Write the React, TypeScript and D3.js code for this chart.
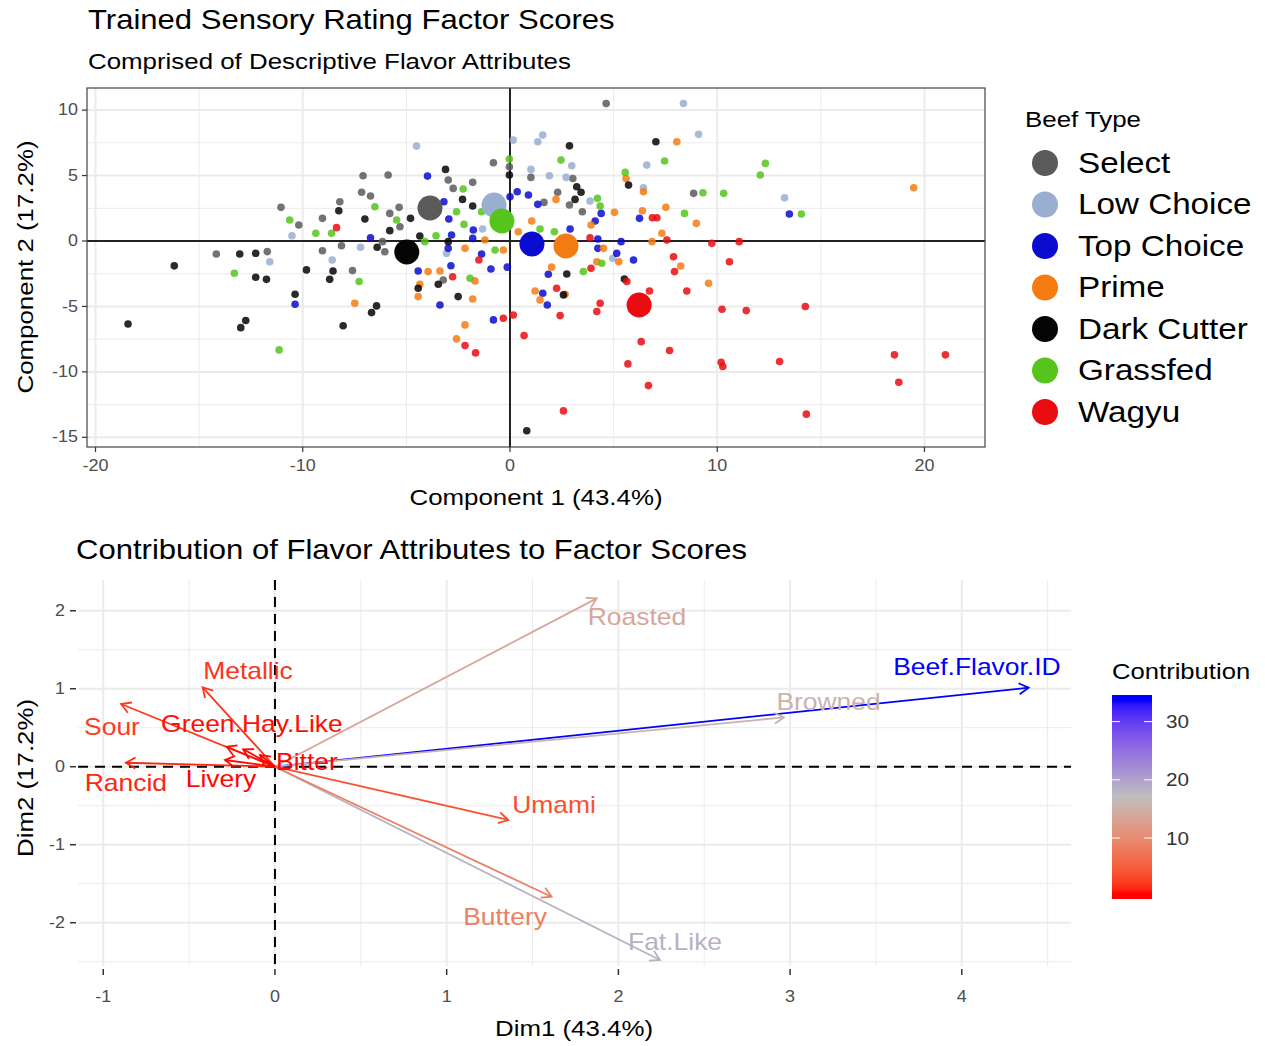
import React from "react";
import * as d3 from "d3";

// ---------- DATA: top plot (factor scores) ----------
const beefTypes = ["Select", "Low Choice", "Top Choice", "Prime", "Dark Cutter", "Grassfed", "Wagyu"];
const typeColors = ["#5a5a5a", "#98afd0", "#0a0ad0", "#f47b12", "#050505", "#55c41c", "#ea0c10"];

const selectPts = [[-11.05,2.57],[-10.19,1.22],[-14.17,-0.99],[-11.71,-0.81],[-0.8,5.98],[-0.03,5.67],[-7.09,4.98],[-5.88,5.04],[-2.98,4.66],[-1.8,4.48],[-2.74,4.02],[-7.16,3.72],[-6.73,3.44],[-8.21,3.0],[-5.35,2.57],[-5.8,2.11],[-9.05,1.73],[-5.31,1.09],[-8.13,-0.36],[-6.15,-0.05],[-9.05,-0.74],[-6.04,-0.82],[-7.6,-2.26],[-3.22,-2.98],[4.64,10.51],[1.01,4.86],[3.03,4.78],[2.3,3.72],[1.64,2.95],[2.87,2.75],[3.49,2.24],[8.86,3.64]];
const lowChoicePts = [[-10.52,0.4],[-11.59,-1.58],[0.16,7.71],[-4.51,7.25],[-1.32,0.92],[-7.21,-0.48],[-8.58,-1.45],[-3.06,-0.94],[8.37,10.51],[1.58,8.09],[1.34,7.58],[9.1,8.15],[2.98,5.75],[6.6,5.8],[1.01,5.47],[1.9,4.98],[2.71,4.86],[3.86,3.05],[6.44,4.07],[4.96,-1.32],[13.25,3.31]];
const topChoicePts = [[-10.37,-4.83],[-3.98,4.96],[-3.19,3.0],[0.35,3.76],[0.89,3.51],[0,3.38],[-2.95,1.68],[-1.77,0.84],[-2.82,0.46],[-6.73,0.25],[-2.98,-0.56],[-1.8,0.2],[-1.37,-0.99],[-4.43,-2.29],[-2.85,-1.89],[-3.38,-4.89],[-0.92,-2.14],[-0.13,-2.0],[-0.8,-6.03],[1.34,2.8],[4.4,2.11],[6.25,1.73],[4.11,1.53],[2.9,0.92],[4.24,0.15],[4.24,-0.56],[5.36,-0.05],[5.15,-0.94],[5.96,-1.45],[1.85,-2.54],[1.58,-3.99],[1.8,-4.89],[13.48,2.06]];
const primePts = [[0.4,0.71],[-2.17,-0.56],[-1.21,0.08],[-0.32,-0.69],[-7.49,-4.76],[-3.95,-2.34],[-3.38,-2.29],[-4.35,-3.31],[-4.43,-4.25],[-1.69,-3.05],[-1.8,-4.43],[-2.17,-6.41],[-2.58,-7.48],[8.05,7.58],[5.6,4.78],[2.22,3.18],[6.44,3.76],[5.04,2.19],[6.39,2.31],[7.52,2.57],[8.99,1.35],[3.91,1.22],[1.05,1.53],[4.51,-0.56],[7.33,0.59],[6.85,-0.05],[4.19,-1.58],[2.01,-2.0],[5.25,-1.58],[8.24,-1.91],[2.66,-4.07],[1.21,-3.82],[1.45,-4.5],[9.58,-3.23],[19.48,4.07]];
const darkCutterPts = [[-13.04,-0.99],[-12.27,-0.94],[-16.2,-1.9],[-12.27,-2.77],[-11.75,-2.93],[-9.82,-2.21],[-10.37,-4.07],[-18.43,-6.34],[-12.75,-6.08],[-12.99,-6.62],[-3.11,5.47],[-0.03,5.04],[-2.29,3.18],[-1.8,2.67],[-8.26,2.31],[-7.0,1.68],[-4.8,1.73],[-5.8,0.79],[-4.35,0.38],[-6.41,-0.48],[-2.98,-0.05],[-8.54,-2.29],[-8.7,-2.93],[-6.44,-4.96],[-6.68,-5.47],[-8.05,-6.47],[-3.46,-3.31],[-4.43,-3.61],[-2.5,-4.25],[0.81,-14.5],[2.87,7.27],[7.04,7.58],[5.72,4.27],[3.22,4.14],[3.43,3.72],[3.14,3.18],[2.74,-2.52],[5.52,-2.9],[2.58,-4.12]];
const grassfedPts = [[-10.63,1.6],[-13.3,-2.47],[-11.14,-8.32],[-0.03,6.26],[-2.26,3.97],[-6.52,2.62],[-5.47,1.6],[-2.58,2.24],[-2.22,1.27],[-1.37,2.24],[-8.61,0.59],[-9.37,0.59],[-3.57,0.4],[-4.11,-0.05],[-0.72,-0.69],[-7.28,-3.1],[-1.93,-2.85],[2.46,6.18],[7.46,6.11],[5.56,5.24],[4.22,3.26],[4.35,2.67],[9.31,3.69],[10.31,3.64],[8.42,2.11],[1.45,0.92],[2.14,0.71],[4.43,-1.7],[3.54,-2.34],[12.32,5.93],[12.08,5.04],[14.06,2.06]];
const wagyuPts = [[-8.37,1.02],[-1.5,-1.45],[-2.77,-2.73],[-0.32,-5.9],[0.16,-5.65],[0.68,-7.23],[-2.17,-7.99],[-1.66,-8.55],[6.87,1.78],[7.09,1.78],[3.86,0.25],[7.57,0.08],[9.74,-0.18],[11.06,-0.05],[7.89,-1.2],[10.59,-1.58],[3.91,-2.08],[7.94,-2.34],[5.64,-3.1],[2.25,-3.61],[2.42,-5.7],[4.35,-4.76],[4.19,-5.39],[6.73,-3.82],[8.53,-3.82],[10.23,-5.21],[11.4,-5.32],[6.33,-7.69],[7.7,-8.37],[5.69,-9.39],[10.19,-9.26],[10.27,-9.59],[6.68,-11.05],[2.58,-12.98],[14.25,-5.01],[13.01,-9.21],[14.3,-13.23],[18.55,-8.7],[21.01,-8.7],[18.76,-10.79]];
const groupPoints = [selectPts, lowChoicePts, topChoicePts, primePts, darkCutterPts, grassfedPts, wagyuPts];

const meanX = [-3.86, -0.77, 1.06, 2.7, -4.98, -0.39, 6.23];
const meanY = [2.52, 2.75, -0.23, -0.38, -0.84, 1.53, -4.89];

const scoreXTicks = [-20, -10, 0, 10, 20];
const scoreXMinor = [-15, -5, 5, 15];
const scoreYTicks = [-15, -10, -5, 0, 5, 10];
const scoreYMinor = [-12.5, -7.5, -2.5, 2.5, 7.5];

// ---------- DATA: bottom plot (variable contributions) ----------
const varNames = ["Beef.Flavor.ID", "Browned", "Roasted", "Fat.Like", "Buttery", "Umami", "Metallic", "Sour", "Rancid", "Green.Hay.Like", "Livery", "Bitter", ""];
const varDim1 = [4.389, 2.964, 1.874, 2.242, 1.611, 1.359, -0.421, -0.896, -0.868, -0.281, -0.291, -0.087, -0.185];
const varDim2 = [1.013, 0.633, 2.159, -2.478, -1.667, -0.683, 1.018, 0.804, 0.051, 0.256, 0.086, 0.15, 0.223];
const varContrib = [33.7, 15.4, 13.6, 18.4, 8.8, 3.9, 2.0, 2.4, 1.3, 0.6, 0.5, 0.45, 0.4];
const labelDim1 = [4.088, 3.224, 2.108, 2.33, 1.34, 1.625, -0.157, -0.949, -0.868, -0.134, -0.314, 0.186, 0];
const labelDim2 = [1.282, 0.833, 1.919, -2.247, -1.927, -0.49, 1.227, 0.512, -0.213, 0.55, -0.162, 0.064, 0];

const dimXTicks = [-1, 0, 1, 2, 3, 4];
const dimXMinor = [-0.5, 0.5, 1.5, 2.5, 3.5, 4.5];
const dimYTicks = [-2, -1, 0, 1, 2];
const dimYMinor = [-2.5, -1.5, -0.5, 0.5, 1.5];
const contribTicks = [10, 20, 30];

// ---------- helpers ----------
const SX = 1.15;
const FONT = "'Liberation Sans', Arial, Helvetica, sans-serif";

function Txt({ x, y, size, anchor = "start", rot = 0, fill = "#000", baseline = "alphabetic", children }: any) {
  return (
    <g transform={`translate(${x},${y}) rotate(${rot}) scale(${SX},1)`}>
      <text fontSize={size} textAnchor={anchor} dominantBaseline={baseline} fill={fill} fontFamily={FONT}>
        {children}
      </text>
    </g>
  );
}

export default function App() {
  // top plot scales
  const P1 = { l: 87, r: 985, t: 88, b: 447 };
  const xS = d3.scaleLinear().domain([-20.41, 22.92]).range([P1.l, P1.r]);
  const yS = d3.scaleLinear().domain([-15.74, 11.69]).range([P1.b, P1.t]);

  // bottom plot scales
  const P2 = { l: 78, r: 1071, t: 580, b: 966 };
  const bx = d3.scaleLinear().domain([-1.147, 4.636]).range([P2.l, P2.r]);
  const by = d3.scaleLinear().domain([-2.555, 2.394]).range([P2.b, P2.t]);

  const cMin = d3.min(varContrib) as number;
  const cMax = d3.max(varContrib) as number;
  const cScale = d3
    .scaleLinear<string>()
    .domain([cMin, (cMin + cMax) / 2, cMax])
    .range(["#ff0000", "#bebebe", "#0000ff"])
    .interpolate(d3.interpolateLab)
    .clamp(true);

  const CB = { l: 1112, r: 1152, t: 695, b: 899 };
  const half = (CB.b - CB.t) / 40;
  const cbY = d3.scaleLinear().domain([cMin, cMax]).range([CB.b - half, CB.t + half]);
  const gradStops = d3.range(0, 41).map((i) => {
    const off = i / 40;
    const v = cbY.invert(CB.t + off * (CB.b - CB.t));
    return { off, c: cScale(v) };
  });

  const tickGray = "#4d4d4d";
  const gridCol = "#ebebeb";

  const arrowHead = (x0: number, y0: number, x1: number, y1: number) => {
    const a = Math.atan2(y1 - y0, x1 - x0);
    const L = 11;
    const s = Math.PI / 6;
    const p1 = [x1 - L * Math.cos(a - s), y1 - L * Math.sin(a - s)];
    const p2 = [x1 - L * Math.cos(a + s), y1 - L * Math.sin(a + s)];
    return `M${p1[0]},${p1[1]}L${x1},${y1}L${p2[0]},${p2[1]}`;
  };

  return (
    <svg width={1265} height={1046} style={{ position: "absolute", left: 0, top: 0, background: "#fff" }}>
      <defs>
        <linearGradient id="cbgrad" x1="0" y1="0" x2="0" y2="1">
          {gradStops.map((s, i) => (
            <stop key={i} offset={s.off} stopColor={s.c} />
          ))}
        </linearGradient>
        <clipPath id="clip1">
          <rect x={P1.l} y={P1.t} width={P1.r - P1.l} height={P1.b - P1.t} />
        </clipPath>
      </defs>
      <rect x={0} y={0} width={1265} height={1046} fill="#fff" />

      {/* ===== Top plot ===== */}
      <Txt x={88} y={29} size={27}>Trained Sensory Rating Factor Scores</Txt>
      <Txt x={88} y={69} size={22.5}>Comprised of Descriptive Flavor Attributes</Txt>

      <rect x={P1.l} y={P1.t} width={P1.r - P1.l} height={P1.b - P1.t} fill="#fff" />
      {scoreXMinor.map((v) => (
        <line key={"xm" + v} x1={xS(v)} x2={xS(v)} y1={P1.t} y2={P1.b} stroke={gridCol} strokeWidth={1} />
      ))}
      {scoreYMinor.map((v) => (
        <line key={"ym" + v} x1={P1.l} x2={P1.r} y1={yS(v)} y2={yS(v)} stroke={gridCol} strokeWidth={1} />
      ))}
      {scoreXTicks.map((v) => (
        <line key={"xg" + v} x1={xS(v)} x2={xS(v)} y1={P1.t} y2={P1.b} stroke={gridCol} strokeWidth={2} />
      ))}
      {scoreYTicks.map((v) => (
        <line key={"yg" + v} x1={P1.l} x2={P1.r} y1={yS(v)} y2={yS(v)} stroke={gridCol} strokeWidth={2} />
      ))}
      <g clipPath="url(#clip1)">
        <line x1={P1.l} x2={P1.r} y1={yS(0)} y2={yS(0)} stroke="#222" strokeWidth={2} />
        <line x1={xS(0)} x2={xS(0)} y1={P1.t} y2={P1.b} stroke="#222" strokeWidth={2} />
        {groupPoints.map((pts, gi) =>
          pts.map((p, i) => (
            <circle key={gi + "-" + i} cx={xS(p[0])} cy={yS(p[1])} r={3.8} fill={typeColors[gi]} fillOpacity={0.85} />
          ))
        )}
        {beefTypes.map((t, gi) => (
          <circle key={"m" + t} cx={xS(meanX[gi])} cy={yS(meanY[gi])} r={12.5} fill={typeColors[gi]} />
        ))}
      </g>
      <rect x={P1.l} y={P1.t} width={P1.r - P1.l} height={P1.b - P1.t} fill="none" stroke="#444" strokeWidth={1.2} />
      {scoreXTicks.map((v) => (
        <g key={"xt" + v}>
          <line x1={xS(v)} x2={xS(v)} y1={P1.b} y2={P1.b + 5} stroke="#333" strokeWidth={1.2} />
          <Txt x={xS(v)} y={P1.b + 24} size={15.6} anchor="middle" fill={tickGray}>{String(v)}</Txt>
        </g>
      ))}
      {scoreYTicks.map((v) => (
        <g key={"yt" + v}>
          <line x1={P1.l - 5} x2={P1.l} y1={yS(v)} y2={yS(v)} stroke="#333" strokeWidth={1.2} />
          <Txt x={P1.l - 9} y={yS(v)} size={15.6} anchor="end" baseline="central" fill={tickGray}>{String(v)}</Txt>
        </g>
      ))}
      <Txt x={536} y={505} size={22.5} anchor="middle">Component 1 (43.4%)</Txt>
      <Txt x={33} y={267} size={22.5} anchor="middle" rot={-90}>Component 2 (17.2%)</Txt>

      {/* legend */}
      <Txt x={1025} y={127} size={22.5}>Beef Type</Txt>
      {beefTypes.map((t, i) => (
        <g key={"lg" + t}>
          <circle cx={1045} cy={163 + i * 41.5} r={13} fill={typeColors[i]} />
          <Txt x={1078} y={163 + i * 41.5} size={28.9} baseline="central">{t}</Txt>
        </g>
      ))}

      {/* ===== Bottom plot ===== */}
      <Txt x={76} y={559} size={27}>Contribution of Flavor Attributes to Factor Scores</Txt>
      {dimXMinor.map((v) => (
        <line key={"bxm" + v} x1={bx(v)} x2={bx(v)} y1={P2.t} y2={P2.b} stroke={gridCol} strokeWidth={1} />
      ))}
      {dimYMinor.map((v) => (
        <line key={"bym" + v} x1={P2.l} x2={P2.r} y1={by(v)} y2={by(v)} stroke={gridCol} strokeWidth={1} />
      ))}
      {dimXTicks.map((v) => (
        <line key={"bxg" + v} x1={bx(v)} x2={bx(v)} y1={P2.t} y2={P2.b} stroke={gridCol} strokeWidth={2} />
      ))}
      {dimYTicks.map((v) => (
        <line key={"byg" + v} x1={P2.l} x2={P2.r} y1={by(v)} y2={by(v)} stroke={gridCol} strokeWidth={2} />
      ))}
      <line x1={P2.l} x2={P2.r} y1={by(0)} y2={by(0)} stroke="#000" strokeWidth={2} strokeDasharray="10,7" />
      <line x1={bx(0)} x2={bx(0)} y1={P2.t} y2={P2.b} stroke="#000" strokeWidth={2} strokeDasharray="10,7" />

      {varNames.map((n, i) => {
        const x0 = bx(0), y0 = by(0), x1 = bx(varDim1[i]), y1 = by(varDim2[i]);
        const c = cScale(varContrib[i]);
        return (
          <g key={"arr" + i}>
            <line x1={x0} y1={y0} x2={x1} y2={y1} stroke={c} strokeWidth={1.8} />
            <path d={arrowHead(x0, y0, x1, y1)} fill="none" stroke={c} strokeWidth={1.8} />
          </g>
        );
      })}
      {varNames.map((n, i) =>
        n ? (
          <Txt key={"vl" + i} x={bx(labelDim1[i])} y={by(labelDim2[i])} size={23} anchor="middle" baseline="central" fill={cScale(varContrib[i])}>
            {n}
          </Txt>
        ) : null
      )}

      {dimXTicks.map((v) => (
        <g key={"bxt" + v}>
          <line x1={bx(v)} x2={bx(v)} y1={P2.b + 3} y2={P2.b + 9} stroke="#333" strokeWidth={1.5} />
          <Txt x={bx(v)} y={P2.b + 36} size={15.6} anchor="middle" fill={tickGray}>{String(v)}</Txt>
        </g>
      ))}
      {dimYTicks.map((v) => (
        <g key={"byt" + v}>
          <line x1={P2.l - 8} x2={P2.l - 2} y1={by(v)} y2={by(v)} stroke="#333" strokeWidth={1.5} />
          <Txt x={P2.l - 13} y={by(v)} size={15.6} anchor="end" baseline="central" fill={tickGray}>{String(v)}</Txt>
        </g>
      ))}
      <Txt x={574} y={1036} size={22.5} anchor="middle">Dim1 (43.4%)</Txt>
      <Txt x={33} y={778} size={22.5} anchor="middle" rot={-90}>Dim2 (17.2%)</Txt>

      {/* colorbar legend */}
      <Txt x={1112} y={679} size={22.3}>Contribution</Txt>
      <rect x={CB.l} y={CB.t} width={CB.r - CB.l} height={CB.b - CB.t} fill="url(#cbgrad)" />
      {contribTicks.map((v) => (
        <g key={"cb" + v}>
          <line x1={CB.l} x2={CB.l + 8} y1={cbY(v)} y2={cbY(v)} stroke="#fff" strokeWidth={1} />
          <line x1={CB.r - 8} x2={CB.r} y1={cbY(v)} y2={cbY(v)} stroke="#fff" strokeWidth={1} />
          <Txt x={CB.r + 14} y={cbY(v)} size={18} baseline="central" fill="#333">{String(v)}</Txt>
        </g>
      ))}
    </svg>
  );
}
